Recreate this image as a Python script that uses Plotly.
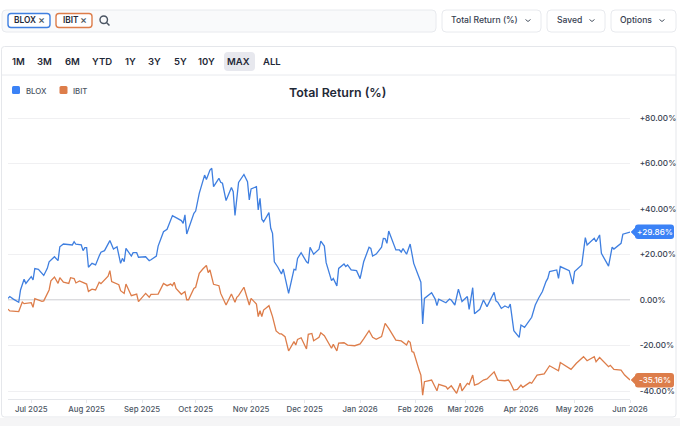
import plotly.graph_objects as go

FONT = "Inter, Roboto, sans-serif"
W, H = 680, 426
BLUE = "#3f7fe0"
ORANGE = "#dd7d4a"

blox_dates = """2025-06-18 2025-06-19 2025-06-21 2025-06-24 2025-06-25 2025-06-27 2025-06-28 2025-06-30 2025-07-01 2025-07-02 2025-07-03 2025-07-05 2025-07-07 2025-07-08 2025-07-10 2025-07-11 2025-07-14 2025-07-16 2025-07-17 2025-07-19 2025-07-24 2025-07-25 2025-07-26 2025-07-29 2025-07-30 2025-07-31 2025-08-01 2025-08-02 2025-08-04 2025-08-06 2025-08-08 2025-08-09 2025-08-11 2025-08-14 2025-08-16 2025-08-18 2025-08-20 2025-08-21 2025-08-22 2025-08-23 2025-08-26 2025-08-27 2025-08-29 2025-08-30 2025-09-03 2025-09-05 2025-09-06 2025-09-09 2025-09-10 2025-09-13 2025-09-15 2025-09-18 2025-09-20 2025-09-23 2025-09-24 2025-09-25 2025-09-26 2025-09-29 2025-09-30 2025-10-01 2025-10-03 2025-10-06 2025-10-07 2025-10-09 2025-10-10 2025-10-11 2025-10-14 2025-10-15 2025-10-16 2025-10-18 2025-10-21 2025-10-22 2025-10-23 2025-10-25 2025-10-28 2025-10-30 2025-10-31 2025-11-01 2025-11-04 2025-11-05 2025-11-06 2025-11-07 2025-11-08 2025-11-11 2025-11-12 2025-11-13 2025-11-14 2025-11-16 2025-11-18 2025-11-19 2025-11-22 2025-11-25 2025-11-26 2025-11-27 2025-11-29 2025-12-02 2025-12-03 2025-12-04 2025-12-06 2025-12-09 2025-12-10 2025-12-12 2025-12-13 2025-12-16 2025-12-17 2025-12-19 2025-12-20 2025-12-23 2025-12-24 2025-12-25 2025-12-27 2025-12-30 2026-01-01 2026-01-03 2026-01-06 2026-01-07 2026-01-08 2026-01-10 2026-01-13 2026-01-14 2026-01-15 2026-01-16 2026-01-17 2026-01-21 2026-01-23 2026-01-24 2026-01-25 2026-01-27 2026-01-29 2026-01-31 2026-02-04 2026-02-05 2026-02-06 2026-02-10 2026-02-12 2026-02-13 2026-02-14 2026-02-18 2026-02-20 2026-02-21 2026-02-23 2026-02-25 2026-02-27 2026-03-02 2026-03-03 2026-03-05 2026-03-06 2026-03-09 2026-03-11 2026-03-13 2026-03-17 2026-03-18 2026-03-19 2026-03-21 2026-03-23 2026-03-25 2026-03-26 2026-03-28 2026-03-31 2026-04-01 2026-04-03 2026-04-07 2026-04-09 2026-04-11 2026-04-13 2026-04-15 2026-04-16 2026-04-17 2026-04-21 2026-04-22 2026-04-23 2026-04-28 2026-04-30 2026-05-01 2026-05-05 2026-05-07 2026-05-08 2026-05-12 2026-05-13 2026-05-15 2026-05-16 2026-05-20 2026-05-22 2026-05-23 2026-05-27 2026-05-28 2026-06-01""".split()

blox_values = [0.7, 1.5, 0.4, -1.0, 4.4, 9.1, 7.3, 9.1, 10.3, 8.8, 13.8, 13.5, 11.7, 10.8, 13.9, 16.8, 19.0, 17.3, 23.4, 24.6, 24.2, 25.6, 24.5, 24.2, 21.7, 23.0, 23.0, 14.4, 16.1, 15.4, 19.3, 21.0, 21.7, 26.1, 22.4, 23.4, 16.1, 18.3, 16.8, 22.7, 19.3, 20.8, 20.8, 18.8, 19.0, 17.3, 17.7, 19.3, 23.7, 30.0, 31.1, 37.1, 36.2, 34.9, 33.7, 37.4, 29.0, 35.9, 38.1, 39.1, 46.9, 54.9, 53.0, 57.1, 57.9, 49.8, 53.5, 51.7, 51.3, 43.7, 49.4, 47.6, 37.2, 51.7, 55.2, 52.0, 44.0, 48.8, 49.8, 39.6, 44.7, 35.5, 34.4, 38.4, 31.5, 29.3, 16.8, 14.4, 11.4, 13.6, 2.9, 13.5, 13.2, 18.3, 20.8, 16.8, 16.1, 23.2, 20.1, 22.3, 25.9, 23.7, 16.4, 8.5, 9.5, 6.2, 13.9, 15.8, 14.7, 15.4, 13.2, 12.9, 9.4, 16.8, 23.2, 22.7, 19.3, 20.2, 23.2, 27.1, 27.0, 24.9, 30.3, 22.0, 22.0, 21.1, 22.6, 20.1, 24.6, 16.1, 7.8, -10.5, 0.7, 3.2, 0.4, -2.5, 0.4, -1.2, 0.4, 0.0, -2.2, 4.8, -0.7, 1.5, -4.1, 5.4, -6.0, -4.1, 0.0, -2.9, 3.4, -0.4, -1.0, -3.7, -2.6, -3.4, -1.8, -13.5, -16.4, -11.0, -12.0, -7.6, -2.2, 1.0, 3.7, 8.1, 9.5, 12.5, 13.2, 9.5, 14.7, 12.9, 7.0, 12.5, 15.4, 27.4, 24.2, 27.1, 25.6, 28.6, 20.5, 14.9, 23.2, 22.4, 24.9, 28.9, 29.86]

ibit_dates = """2025-06-18 2025-06-19 2025-06-24 2025-06-26 2025-06-27 2025-07-01 2025-07-02 2025-07-03 2025-07-07 2025-07-08 2025-07-11 2025-07-12 2025-07-14 2025-07-16 2025-07-17 2025-07-19 2025-07-22 2025-07-23 2025-07-25 2025-07-26 2025-07-28 2025-08-01 2025-08-02 2025-08-04 2025-08-06 2025-08-08 2025-08-09 2025-08-13 2025-08-14 2025-08-15 2025-08-19 2025-08-20 2025-08-22 2025-08-23 2025-08-26 2025-08-29 2025-08-30 2025-09-03 2025-09-05 2025-09-06 2025-09-10 2025-09-13 2025-09-15 2025-09-17 2025-09-18 2025-09-19 2025-09-20 2025-09-23 2025-09-25 2025-09-26 2025-09-27 2025-09-30 2025-10-01 2025-10-03 2025-10-05 2025-10-07 2025-10-08 2025-10-09 2025-10-11 2025-10-14 2025-10-15 2025-10-18 2025-10-21 2025-10-23 2025-10-24 2025-10-25 2025-10-28 2025-10-31 2025-11-01 2025-11-04 2025-11-05 2025-11-06 2025-11-07 2025-11-08 2025-11-11 2025-11-13 2025-11-15 2025-11-17 2025-11-18 2025-11-20 2025-11-22 2025-11-25 2025-11-26 2025-11-27 2025-11-29 2025-12-02 2025-12-03 2025-12-05 2025-12-06 2025-12-09 2025-12-10 2025-12-12 2025-12-16 2025-12-17 2025-12-19 2025-12-20 2025-12-23 2025-12-25 2025-12-29 2026-01-01 2026-01-03 2026-01-06 2026-01-08 2026-01-10 2026-01-13 2026-01-15 2026-01-17 2026-01-21 2026-01-24 2026-01-27 2026-01-28 2026-01-29 2026-01-30 2026-01-31 2026-02-03 2026-02-04 2026-02-05 2026-02-06 2026-02-10 2026-02-13 2026-02-14 2026-02-18 2026-02-19 2026-02-21 2026-02-24 2026-02-26 2026-02-27 2026-03-02 2026-03-03 2026-03-05 2026-03-06 2026-03-08 2026-03-11 2026-03-13 2026-03-17 2026-03-19 2026-03-23 2026-03-25 2026-03-26 2026-03-28 2026-03-30 2026-04-01 2026-04-02 2026-04-06 2026-04-07 2026-04-10 2026-04-14 2026-04-17 2026-04-22 2026-04-23 2026-04-29 2026-05-02 2026-05-06 2026-05-08 2026-05-12 2026-05-13 2026-05-15 2026-05-20 2026-05-21 2026-05-23 2026-05-27 2026-05-29 2026-06-01""".split()

ibit_values = [-4.0, -4.8, -5.1, -0.9, -1.6, -1.2, -3.2, 0.6, -0.6, -0.4, 4.4, 8.4, 10.1, 7.3, 9.8, 7.8, 7.3, 9.8, 9.4, 7.5, 8.4, 7.0, 3.8, 4.8, 4.4, 7.8, 7.2, 10.5, 12.9, 8.1, 6.7, 4.1, 2.9, 7.0, 1.9, 2.6, -0.7, 2.9, 1.2, 2.5, 2.6, 7.3, 6.3, 7.0, 6.3, 7.8, 5.1, 2.5, 3.7, 0.1, 0.1, 5.1, 5.6, 11.7, 13.6, 15.2, 12.0, 13.2, 6.9, 6.3, 2.9, -2.2, 2.6, -1.0, 1.2, 1.9, 5.6, -2.2, 0.7, -1.8, -7.3, -4.7, -7.3, -4.4, -2.5, -7.3, -13.6, -14.9, -14.9, -16.1, -22.4, -18.3, -19.8, -17.3, -16.6, -21.5, -15.1, -14.7, -17.9, -16.4, -14.4, -15.7, -21.2, -19.5, -22.4, -19.0, -18.8, -19.8, -20.1, -19.3, -17.1, -13.5, -16.4, -17.3, -16.1, -10.3, -12.5, -17.6, -18.0, -19.8, -18.0, -18.6, -22.7, -23.0, -30.8, -33.0, -41.8, -35.9, -35.2, -39.9, -37.1, -38.1, -39.1, -37.7, -41.0, -36.6, -39.9, -36.6, -37.1, -33.0, -37.4, -36.9, -35.2, -34.7, -31.6, -35.2, -35.5, -35.2, -36.3, -39.6, -39.3, -37.4, -38.4, -36.2, -36.6, -33.0, -32.5, -28.9, -31.1, -27.5, -30.5, -27.8, -24.9, -26.7, -24.9, -27.1, -25.3, -29.3, -28.7, -30.5, -30.8, -33.0, -35.16]

y_ticks = [80, 60, 40, 20, 0, -20, -40]
y_labels = ["+80.00%", "+60.00%", "+40.00%", "+20.00%", "0.00%", "-20.00%", "-40.00%"]
range_tabs = ["1M", "3M", "6M", "YTD", "1Y", "3Y", "5Y", "10Y", "MAX", "ALL"]
range_tab_x = [18, 44, 72, 102, 130, 154, 180, 207, 239, 272]

def px(x): return x / W
def py(y): return 1 - y / H

shapes, anns = [], []

def rrect(x0, y0, x1, y1, r, fill="rgba(0,0,0,0)", line="rgba(0,0,0,0)", lw=1, layer="below"):
    p = (f"M{px(x0+r)},{py(y0)} L{px(x1-r)},{py(y0)} Q{px(x1)},{py(y0)} {px(x1)},{py(y0+r)} "
         f"L{px(x1)},{py(y1-r)} Q{px(x1)},{py(y1)} {px(x1-r)},{py(y1)} L{px(x0+r)},{py(y1)} "
         f"Q{px(x0)},{py(y1)} {px(x0)},{py(y1-r)} L{px(x0)},{py(y0+r)} Q{px(x0)},{py(y0)} {px(x0+r)},{py(y0)} Z")
    shapes.append(dict(type="path", xref="paper", yref="paper", path=p, fillcolor=fill,
                       line=dict(color=line, width=lw), layer=layer))

def seg(pts, color, lw=1.2, layer="above"):
    p = "M" + " L".join(f"{px(a)},{py(b)}" for a, b in pts)
    shapes.append(dict(type="path", xref="paper", yref="paper", path=p,
                       line=dict(color=color, width=lw), layer=layer))

def text(x, y, s, size=10.5, color="#374151", anchor="center", weight=500):
    anns.append(dict(xref="paper", yref="paper", x=px(x), y=py(y), text=s, showarrow=False,
                     xanchor=anchor, yanchor="middle", borderpad=0,
                     font=dict(family=FONT, size=size, color=color, weight=weight)))

# page strip under the card
shapes.append(dict(type="rect", xref="paper", yref="paper", x0=0, x1=1, y0=0, y1=py(418),
                   fillcolor="#f5f5f6", line=dict(width=0), layer="below"))
# search bar, chips
rrect(2, 10, 436, 32, 4, fill="#f9fafb", line="#e8eaee")
rrect(8, 13.5, 50, 27.5, 3, fill="#ffffff", line=BLUE, lw=1.4)
text(13, 20.5, "BLOX", size=8.3, color="#1f2937", anchor="left", weight=600)
text(41.5, 20.5, "×", size=10.5, color="#4b5563")
rrect(56, 13.5, 92, 27.5, 3, fill="#ffffff", line=ORANGE, lw=1.4)
text(61.5, 20.5, "IBIT", size=8.3, color="#1f2937", anchor="left", weight=600)
text(83.5, 20.5, "×", size=10.5, color="#4b5563")
shapes.append(dict(type="circle", xref="paper", yref="paper", x0=px(100), x1=px(107.5),
                   y0=py(23.5), y1=py(16), line=dict(color="#4b5563", width=1.4)))
seg([(106.5, 22.5), (109.5, 25.5)], "#4b5563", 1.5)
# buttons
for x0, x1, label, cx, chev in [(442, 541, "Total Return (%)", 484, 528),
                                (547, 605, "Saved", 569, 592),
                                (611, 676, "Options", 636, 662)]:
    rrect(x0, 10, x1, 32, 4, fill="#ffffff", line="#e8eaee")
    text(cx, 20.5, label, size=8.6, color="#374151")
    seg([(chev - 2.5, 19.5), (chev, 21.5), (chev + 2.5, 19.5)], "#4b5563", 1)
# chart card
rrect(1.5, 46.5, 676, 417, 3, fill="#ffffff", line="#e5e7eb")
seg([(2, 75), (676, 75)], "#e8eaee", 1, layer="below")
rrect(224, 52, 255, 71, 4, fill="#e7e8ee")
for lab, xc in zip(range_tabs, range_tab_x):
    text(xc, 61.5, lab, size=9.5, color="#1f2937", weight=600)
# legend and title
rrect(12, 86, 20, 94, 1.5, fill="#3b82f6")
text(24.5, 90.5, "BLOX", size=7.8, color="#4b5563", anchor="left")
rrect(59.5, 86, 67.5, 94, 1.5, fill=ORANGE)
text(72, 90.5, "IBIT", size=7.8, color="#4b5563", anchor="left")
text(337, 92, "Total Return (%)", size=12.4, color="#1f2937", weight=600)
# end labels
rrect(635, 224.5, 674, 239, 3, fill="#3b82f6", layer="above")
seg([(631, 232), (636, 227), (636, 237), (631, 232)], "#3b82f6", 0.5)
shapes[-1]["fillcolor"] = "#3b82f6"
text(654.5, 232, "+" + f"{blox_values[-1]:.2f}%", size=8.2, color="#ffffff")
rrect(635, 373, 674, 387.5, 3, fill=ORANGE, layer="above")
seg([(631, 380), (636, 375), (636, 385), (631, 380)], ORANGE, 0.5)
shapes[-1]["fillcolor"] = ORANGE
text(654.5, 380, f"{ibit_values[-1]:.2f}%", size=8.2, color="#ffffff")
# emphasised zero line
shapes.append(dict(type="line", xref="paper", yref="y", x0=px(8), x1=px(630), y0=0, y1=0,
                   line=dict(color="#dcdcdf", width=1.8), layer="below"))

fig = go.Figure()
fig.add_trace(go.Scatter(x=blox_dates, y=blox_values, name="BLOX", mode="lines",
                         line=dict(color=BLUE, width=1.3), showlegend=False))
fig.add_trace(go.Scatter(x=ibit_dates, y=ibit_values, name="IBIT", mode="lines",
                         line=dict(color=ORANGE, width=1.3), showlegend=False))
fig.update_layout(
    width=W, height=H, autosize=False, margin=dict(l=0, r=0, t=0, b=0),
    paper_bgcolor="#ffffff", plot_bgcolor="rgba(0,0,0,0)",
    shapes=shapes, annotations=anns, hovermode=False,
    xaxis=dict(domain=[px(8), px(630)], type="date", range=["2025-06-18", "2026-06-01"],
               automargin=False,
               dtick="M1", tick0="2025-07-01", tickformat="%b %Y", showgrid=False,
               showline=True, linecolor="#e5e7eb", linewidth=1, ticks="outside", ticklen=3,
               tickcolor="#e5e7eb",
               tickfont=dict(family=FONT, size=7.8, color="#4b5563", weight=500), anchor="y"),
    yaxis=dict(domain=[py(399), py(100)], range=[(300 - 399) / 2.275, (300 - 100) / 2.275],
               automargin=False,
               side="right", tickvals=y_ticks, ticktext=y_labels, showgrid=True,
               gridcolor="#f0f0f2", gridwidth=1, zeroline=False, showline=False,
               ticks="outside", ticklen=7, tickcolor="rgba(0,0,0,0)",
               tickfont=dict(family=FONT, size=8.2, color="#374151", weight=500), anchor="x"),
)
fig.write_html("out.html", post_script="document.body.style.margin='0';document.body.style.overflow='hidden';",
               config={"displayModeBar": False})
